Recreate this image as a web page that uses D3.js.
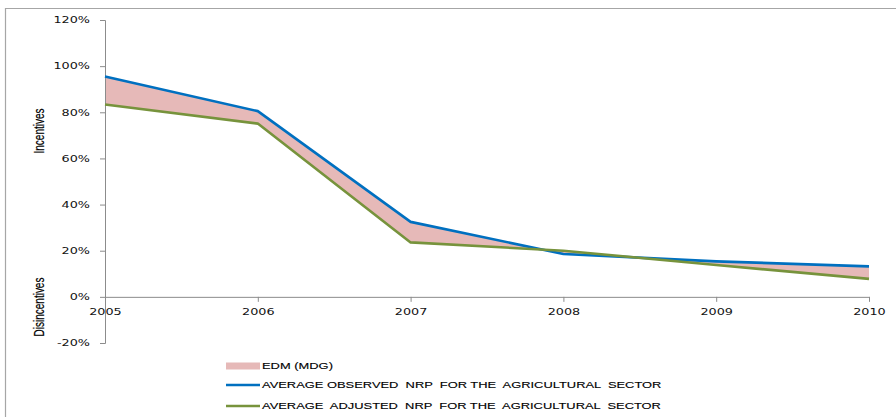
<!DOCTYPE html>
<html>
<head>
<meta charset="utf-8">
<script src="https://cdn.jsdelivr.net/npm/d3@7/dist/d3.min.js"></script>
<style>
  html, body { margin: 0; padding: 0; background: #fff; }
  svg { display: block; }
</style>
</head>
<body>
<svg id="chart" width="896" height="417"></svg>
<script>
// Years on the horizontal axis
const years = [2005, 2006, 2007, 2008, 2009, 2010];
// Average observed nominal rate of protection (share)
const observed = [0.955, 0.805, 0.325, 0.186, 0.154, 0.132];
// Average adjusted nominal rate of protection (share)
const adjusted = [0.834, 0.751, 0.236, 0.200, 0.138, 0.078];
// Vertical tick values
const yTicks = [-0.2, 0, 0.2, 0.4, 0.6, 0.8, 1.0, 1.2];
// Legend entries
const legendLabels = [
  "EDM (MDG)",
  "AVERAGE OBSERVED  NRP  FOR THE  AGRICULTURAL  SECTOR",
  "AVERAGE  ADJUSTED  NRP  FOR THE  AGRICULTURAL  SECTOR"
];

const BLUE = "#0070C0", GREEN = "#77933C", PINK = "#E6B9B8", AXIS = "#8c8c8c";
const SX = 1.42; // horizontal text stretch

const svg = d3.select("#chart");

// outer frame
svg.append("path")
  .attr("d", "M5.5,417 L5.5,8.5 L896,8.5")
  .attr("fill", "none").attr("stroke", "#a6a6a6").attr("stroke-width", 1.2);

const x = d3.scaleLinear().domain([2005, 2010]).range([105, 869]);
const y = d3.scaleLinear().domain([-0.2, 1.2]).range([343, 20]);

const data = years.map((yr, i) => ({ yr, obs: observed[i], adj: adjusted[i] }));

// EDM band between adjusted and observed
svg.append("path")
  .datum(data)
  .attr("fill", PINK)
  .attr("d", d3.area().x(d => x(d.yr)).y0(d => y(d.adj)).y1(d => y(d.obs)));

// Y axis
const yAxis = svg.append("g")
  .attr("transform", "translate(105,0)")
  .call(d3.axisLeft(y).tickValues(yTicks).tickSize(5).tickPadding(0)
    .tickFormat(d => Math.round(d * 100) + "%"));
yAxis.select(".domain").attr("stroke", AXIS);
yAxis.selectAll(".tick line").attr("stroke", AXIS);
yAxis.selectAll(".tick text")
  .attr("x", null).attr("dy", null)
  .attr("text-anchor", "end")
  .attr("dominant-baseline", "central")
  .attr("font-family", "DejaVu Sans, Verdana, sans-serif")
  .attr("font-size", 9).attr("fill", "#111")
  .attr("transform", `translate(-15,0) scale(${SX},1)`);

// X axis along the zero line
const xAxis = svg.append("g")
  .attr("transform", `translate(0,${y(0)})`)
  .call(d3.axisBottom(x).tickValues(years).tickSize(5).tickPadding(0)
    .tickFormat(d3.format("d")).tickSizeOuter(0));
xAxis.select(".domain").attr("stroke", AXIS);
xAxis.selectAll(".tick line").attr("stroke", AXIS);
xAxis.selectAll(".tick text")
  .attr("y", null).attr("dy", null)
  .attr("text-anchor", "middle")
  .attr("font-family", "DejaVu Sans, Verdana, sans-serif")
  .attr("font-size", 9).attr("fill", "#111")
  .attr("transform", `translate(0,18) scale(${SX},1)`);

// Series lines
const lineObs = d3.line().x(d => x(d.yr)).y(d => y(d.obs));
const lineAdj = d3.line().x(d => x(d.yr)).y(d => y(d.adj));
svg.append("path").datum(data).attr("d", lineObs)
  .attr("fill", "none").attr("stroke", BLUE).attr("stroke-width", 2.6)
  .attr("stroke-linejoin", "round");
svg.append("path").datum(data).attr("d", lineAdj)
  .attr("fill", "none").attr("stroke", GREEN).attr("stroke-width", 2.6)
  .attr("stroke-linejoin", "round");

// Rotated axis titles
function vTitle(txt, cx, cy) {
  svg.append("text")
    .attr("transform", `translate(${cx},${cy}) scale(${SX},1) rotate(-90)`)
    .attr("text-anchor", "middle")
    .attr("dominant-baseline", "central")
    .attr("font-family", "Liberation Sans, Arial, sans-serif")
    .attr("font-size", 10).attr("fill", "#000")
    .attr("stroke", "#000").attr("stroke-width", 0.15)
    .text(txt);
}
vTitle("Incentives", 39.5, 131);
vTitle("Disincentives", 39, 307);

// Legend
const legend = svg.append("g").attr("transform", "translate(226,0)");
const rowY = [366, 385, 406];
legend.append("rect").attr("x", 0).attr("y", rowY[0] - 3.5).attr("width", 34).attr("height", 7)
  .attr("fill", PINK);
legend.append("line").attr("x1", 0).attr("x2", 34).attr("y1", rowY[1]).attr("y2", rowY[1])
  .attr("stroke", BLUE).attr("stroke-width", 2.6);
legend.append("line").attr("x1", 0).attr("x2", 34).attr("y1", rowY[2]).attr("y2", rowY[2])
  .attr("stroke", GREEN).attr("stroke-width", 2.6);
legendLabels.forEach((t, i) => {
  legend.append("text")
    .attr("transform", `translate(36,${rowY[i]}) scale(1.45,1)`)
    .attr("dominant-baseline", "central")
    .attr("font-family", "Liberation Sans, Arial, sans-serif")
    .attr("font-size", 8.9).attr("fill", "#000")
    .attr("stroke", "#000").attr("stroke-width", 0.12)
    .attr("xml:space", "preserve")
    .style("white-space", "pre")
    .text(t);
});
</script>
</body>
</html>
